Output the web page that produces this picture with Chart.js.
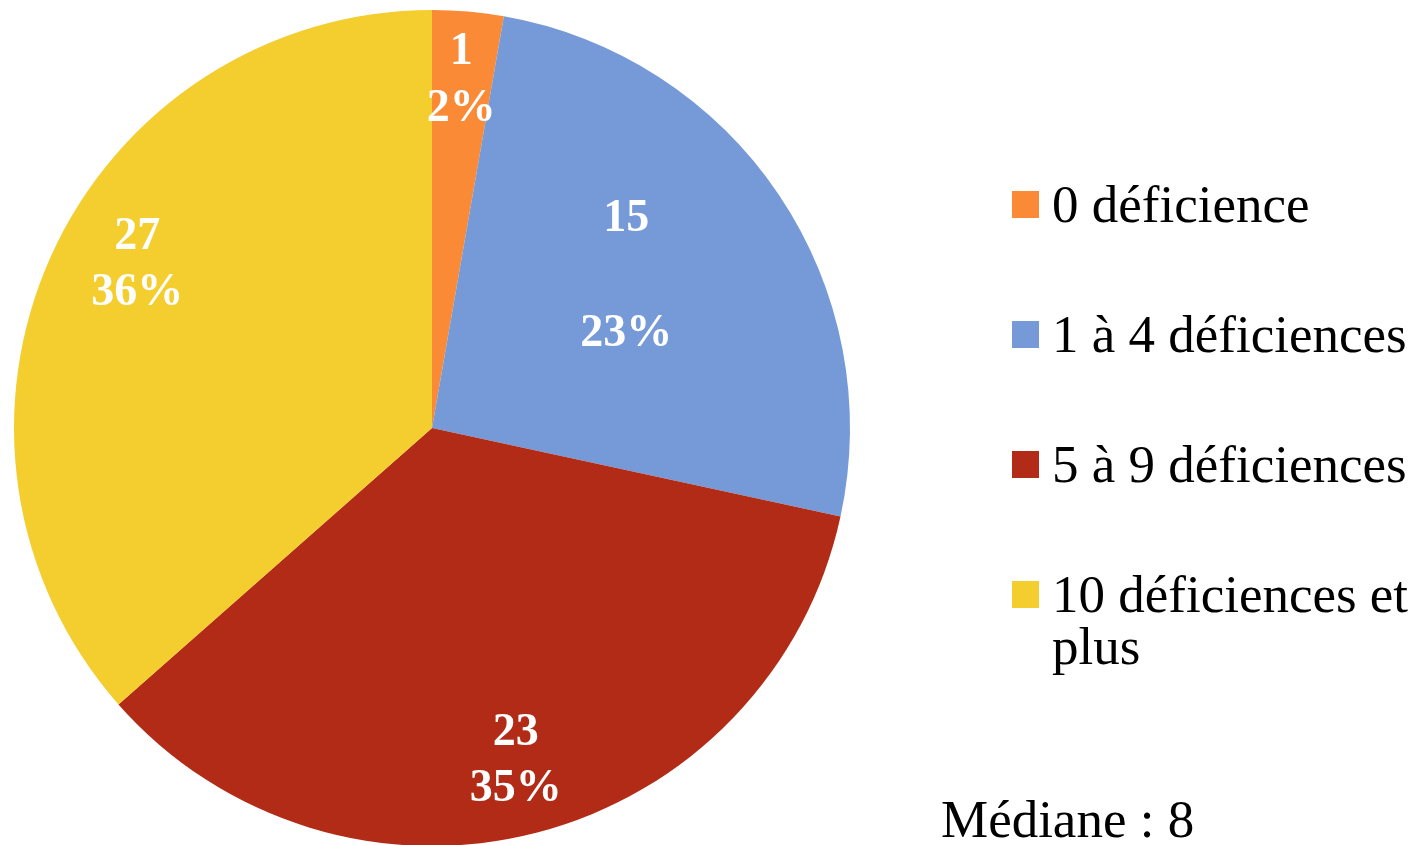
<!DOCTYPE html>
<html lang="fr">
<head>
<meta charset="utf-8">
<title>Déficiences</title>
<script src="https://cdn.jsdelivr.net/npm/chart.js@4/dist/chart.umd.min.js"></script>
<style>
    html, body { margin: 0; padding: 0; background: #fff; overflow: hidden; }
    #wrap { position: relative; width: 1419px; height: 846px; }
</style>
</head>
<body>
<div id="wrap"><canvas id="pieChart"></canvas></div>
<script>
// catégories et valeurs
const categories = ['0 déficience', '1 à 4 déficiences', '5 à 9 déficiences', '10 déficiences et plus'];
const sliceShares = [2.75, 25.65, 35.1, 36.5];   // part de chaque secteur (angle lu)
const counts = [1, 15, 23, 27];
const percentLabels = ['2%', '23%', '35%', '36%'];
const colors = ['#FB8A36', '#7699D8', '#B22B16', '#F4CD2E'];
const medianText = 'Médiane : 8';

// étiquettes blanches dans les secteurs (pas de plugin datalabels dispo)
const sliceLabels = {
    id: 'sliceLabels',
    afterDatasetsDraw(chart, args, opts) {
        const { ctx } = chart;
        const meta = chart.getDatasetMeta(0);
        ctx.save();
        ctx.fillStyle = '#fff';
        ctx.font = 'bold 46px "Liberation Serif", serif';
        ctx.textAlign = 'center';
        ctx.textBaseline = 'alphabetic';
        meta.data.forEach((arc, i) => {
            const p = arc.getProps(['x', 'y', 'startAngle', 'endAngle', 'outerRadius'], true);
            const mid = (p.startAngle + p.endAngle) / 2 + opts.angleShift[i] * Math.PI / 180;
            const r = p.outerRadius * opts.radius[i];
            const cx = p.x + Math.cos(mid) * r;
            const cy = p.y + Math.sin(mid) * r;
            const gap = opts.gap[i];
            ctx.fillText(String(counts[i]), cx, cy - gap / 2 + 16);
            ctx.fillText(percentLabels[i], cx, cy + gap / 2 + 16);
        });
        ctx.restore();
    }
};

// légende à droite, dessinée à la main pour placer comme l'original
const sideLegend = {
    id: 'sideLegend',
    afterDraw(chart, args, opts) {
        const { ctx } = chart;
        const ds = chart.data.datasets[0];
        ctx.save();
        ctx.font = '53px "Liberation Serif", serif';
        ctx.textBaseline = 'alphabetic';
        ctx.textAlign = 'left';
        const maxW = chart.width - opts.textX - 4;
        chart.data.labels.forEach((label, i) => {
            const base = opts.firstBaseline + i * opts.step;
            ctx.fillStyle = ds.backgroundColor[i];
            ctx.fillRect(opts.boxX, base - 31, 27, 27);
            ctx.fillStyle = '#000';
            // retour à la ligne simple
            const words = label.split(' ');
            let line = '';
            let y = base;
            words.forEach(w => {
                const test = line ? line + ' ' + w : w;
                if (ctx.measureText(test).width > maxW && line) {
                    ctx.fillText(line, opts.textX, y);
                    line = w;
                    y += opts.lineHeight;
                } else {
                    line = test;
                }
            });
            ctx.fillText(line, opts.textX, y);
        });
        ctx.fillText(medianText, opts.medianX, opts.medianY);
        ctx.restore();
    }
};

const ctxPie = document.getElementById('pieChart');
new Chart(ctxPie, {
    type: 'pie',
    data: {
        labels: categories,
        datasets: [{
            data: sliceShares,
            backgroundColor: colors,
            borderWidth: 0
        }]
    },
    options: {
        responsive: true,
        maintainAspectRatio: false,
        animation: false,
        layout: { padding: { left: 14, top: 10, right: 569, bottom: 0 } },
        plugins: {
            legend: { display: false },
            tooltip: { enabled: false },
            sliceLabels: {
                radius: [0.845, 0.596, 0.813, 0.811],
                angleShift: [-0.2, -4.8, 0.3, 5.3],
                gap: [57, 115, 56, 56]
            },
            sideLegend: {
                boxX: 1012,
                textX: 1052,
                firstBaseline: 222,
                step: 130,
                lineHeight: 52,
                medianX: 941,
                medianY: 837
            }
        }
    },
    plugins: [sliceLabels, sideLegend]
});
</script>
</body>
</html>
